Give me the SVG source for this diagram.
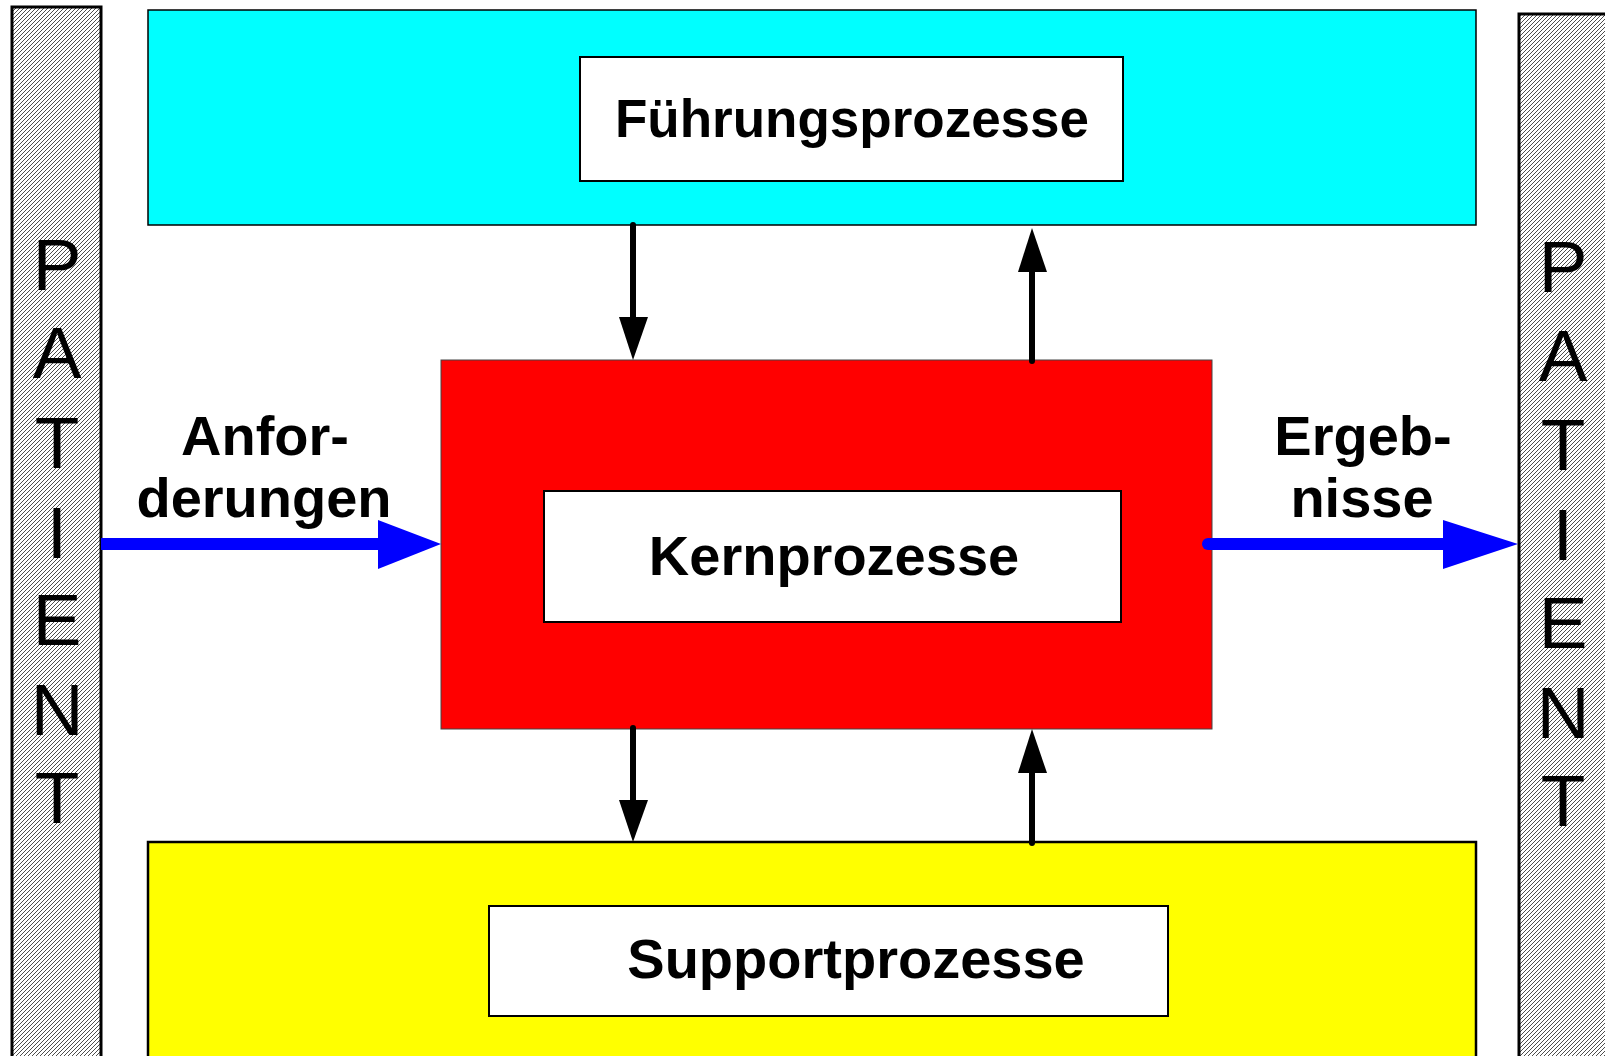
<svg xmlns="http://www.w3.org/2000/svg" width="1605" height="1056" viewBox="0 0 1605 1056">
<defs>
<pattern id="hatch" patternUnits="userSpaceOnUse" width="4" height="4">
<rect width="4" height="4" fill="#ffffff"/>
<path d="M-1,1 L1,-1 M0,4 L4,0 M3,5 L5,3" stroke="#000000" stroke-width="0.7"/>
</pattern>
<style>
.bar{fill:url(#hatch);stroke:#000;stroke-width:3}
.pat{font-family:"Liberation Sans",Arial,sans-serif;font-size:73px;fill:#000;text-anchor:middle}
.lbl{font-family:"Liberation Sans",Arial,sans-serif;font-size:56px;font-weight:bold;fill:#000;text-anchor:middle}
.inner{fill:#fff;stroke:#000;stroke-width:2}
.blk{stroke:#000;stroke-width:6;stroke-linecap:round;fill:none}
.blue{stroke:#0000ff;stroke-width:12;fill:none}
</style>
</defs>
<rect width="1605" height="1056" fill="#fff"/>
<g id="patient-left">
<rect class="bar" x="12" y="7" width="89" height="1060"/>
<text class="pat" x="57" y="290">P</text>
<text class="pat" x="57" y="378">A</text>
<text class="pat" x="57" y="468">T</text>
<text class="pat" x="57" y="558">I</text>
<text class="pat" x="57" y="645">E</text>
<text class="pat" x="57" y="735">N</text>
<text class="pat" x="57" y="823">T</text>
</g>
<g id="patient-right">
<rect class="bar" x="1519" y="14" width="89" height="1060"/>
<text class="pat" x="1563" y="292">P</text>
<text class="pat" x="1563" y="381">A</text>
<text class="pat" x="1563" y="470">T</text>
<text class="pat" x="1563" y="560">I</text>
<text class="pat" x="1563" y="648">E</text>
<text class="pat" x="1563" y="738">N</text>
<text class="pat" x="1563" y="826">T</text>
</g>
<g id="fuehrung">
<rect x="148" y="10" width="1328" height="215" fill="#00ffff" stroke="#000" stroke-width="1.5"/>
<rect class="inner" x="580" y="57" width="543" height="124"/>
<text class="lbl" x="852" y="137" style="font-size:53px">Führungsprozesse</text>
</g>
<g id="kern">
<rect x="441" y="360" width="771" height="369" fill="#ff0000" stroke="#444" stroke-width="1"/>
<rect class="inner" x="544" y="491" width="577" height="131"/>
<text class="lbl" x="834" y="575">Kernprozesse</text>
</g>
<g id="support">
<rect x="148" y="842" width="1328" height="230" fill="#ffff00" stroke="#000" stroke-width="2.5"/>
<rect class="inner" x="489" y="906" width="679" height="110"/>
<text class="lbl" x="856" y="978">Supportprozesse</text>
</g>
<g id="labels">
<text class="lbl" x="265" y="455">Anfor-</text>
<text class="lbl" x="264" y="517">derungen</text>
<text class="lbl" x="1363" y="455">Ergeb-</text>
<text class="lbl" x="1362" y="517">nisse</text>
</g>
<g id="connectors">
<line class="blue" x1="101" y1="544" x2="380" y2="544"/>
<polygon points="378,520 441,544 378,569" fill="#0000ff"/>
<line class="blue" x1="1208" y1="544" x2="1446" y2="544" stroke-linecap="round"/>
<polygon points="1443,520 1518,544 1443,569" fill="#0000ff"/>
<line class="blk" x1="633" y1="225" x2="633" y2="318" stroke-linecap="butt"/>
<polygon points="619,317 648,317 633,360"/>
<line class="blk" x1="1032" y1="361" x2="1032" y2="272"/>
<polygon points="1018,272 1047,272 1032,228"/>
<line class="blk" x1="633" y1="728" x2="633" y2="801"/>
<polygon points="619,800 648,800 633,842"/>
<line class="blk" x1="1032" y1="843" x2="1032" y2="773"/>
<polygon points="1018,773 1047,773 1032,729"/>
</g>
</svg>
